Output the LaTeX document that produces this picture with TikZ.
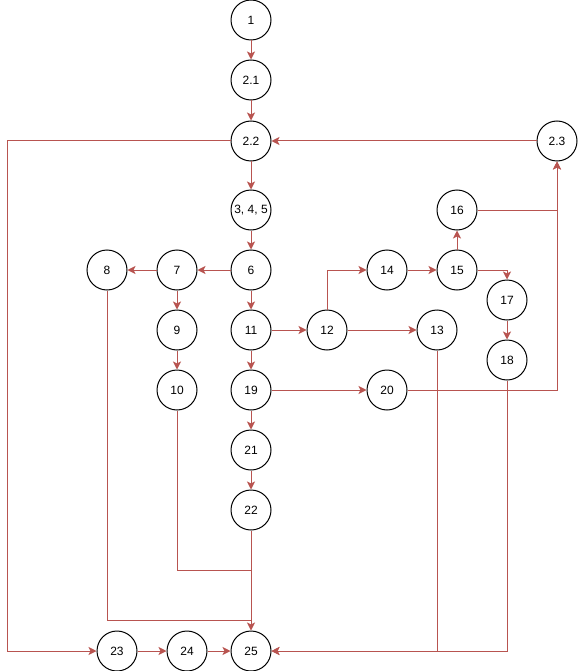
\documentclass[tikz,border=0pt]{standalone}
\usepackage{fontspec}
\setmainfont{Liberation Sans}
\usetikzlibrary{arrows.meta}
\definecolor{edge}{HTML}{B85450}
\begin{document}
\begin{tikzpicture}[x=1pt,y=-1pt,
    v/.style={draw,circle,line width=1pt,minimum size=40pt,inner sep=0pt,font=\fontsize{12}{14}\selectfont},
    e/.style={draw=edge,line width=1pt},
    a/.style={e,-{Stealth[length=8pt,width=8pt,inset=2pt]}}]
        \useasboundingbox (0,0) rectangle (578,671);
        \node[v] (v1) at (251,20) {1};
        \node[v] (v21) at (251,80) {2.1};
        \node[v] (v22) at (251,141) {2.2};
        \node[v] (v23) at (557,141) {2.3};
        \node[v] (v345) at (251,210) {3, 4, 5};
        \node[v] (v16) at (457,210) {16};
        \node[v] (v8) at (107,270) {8};
        \node[v] (v7) at (177,270) {7};
        \node[v] (v6) at (251,270) {6};
        \node[v] (v14) at (387,270) {14};
        \node[v] (v15) at (457,270) {15};
        \node[v] (v17) at (507,300) {17};
        \node[v] (v9) at (177,330) {9};
        \node[v] (v11) at (251,330) {11};
        \node[v] (v12) at (327,330) {12};
        \node[v] (v13) at (437,330) {13};
        \node[v] (v18) at (507,360) {18};
        \node[v] (v10) at (177,390) {10};
        \node[v] (v19) at (251,390) {19};
        \node[v] (v20) at (387,390) {20};
        \node[v] (v21b) at (251,450) {21};
        \node[v] (v22b) at (251,510) {22};
        \node[v] (v23b) at (117,651) {23};
        \node[v] (v24) at (187,651) {24};
        \node[v] (v25) at (251,651) {25};
        \coordinate (cl) at (7,651);
        \coordinate (j10) at (251,570);
        \coordinate (j8) at (251,620);
        % main path
        \draw [a] (v1) -- (v21);
        \draw [a] (v21) -- (v22);
        \draw [a] (v23) -- (v22);
        \draw [e] (v22) -| (cl);
        \draw [a] (cl) -- (v23b);
        \draw [a] (v22) -- (v345);
        \draw [a] (v345) -- (v6);
        \draw [a] (v6) -- (v7);
        \draw [a] (v7) -- (v8);
        \draw [a] (v7) -- (v9);
        \draw [a] (v9) -- (v10);
        \draw [a] (v6) -- (v11);
        \draw [a] (v11) -- (v12);
        \draw [a] (v12) |- (v14);
        \draw [a] (v12) -- (v13);
        \draw [a] (v14) -- (v15);
        \draw [a] (v15) -- (v16);
        \draw [a] (v15) -| (v17);
        \draw [a] (v17) -- (v18);
        \draw [a] (v16) -| (v23);
        \draw [a] (v11) -- (v19);
        \draw [a] (v19) -- (v20);
        \draw [a] (v20) -| (v23);
        \draw [a] (v19) -- (v21b);
        \draw [a] (v21b) -- (v22b);
        % into 25
        \draw [e] (v10) |- (j10);
        \draw [e] (v8) |- (j8);
        \draw [a] (v22b) -- (v25);
        \draw [a] (v13) |- (v25);
        \draw [a] (v18) |- (v25);
        \draw [a] (v23b) -- (v24);
        \draw [a] (v24) -- (v25);
    \end{tikzpicture}
\end{document}
